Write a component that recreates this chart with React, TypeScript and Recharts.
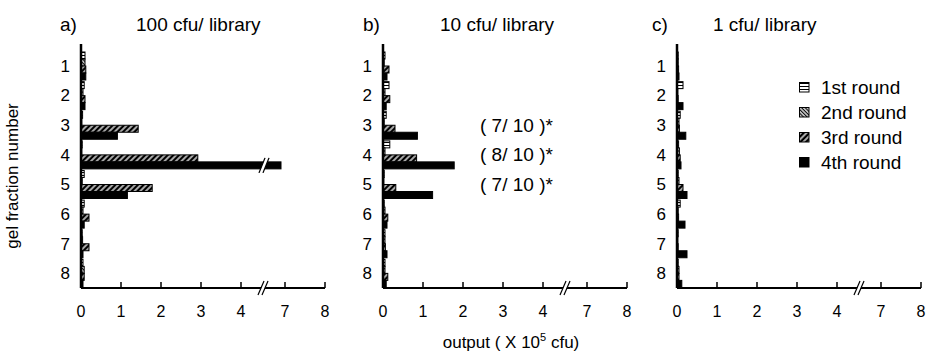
import React from 'react';
import { BarChart, Bar, XAxis, YAxis, ReferenceDot } from 'recharts';

const FONT = '"Liberation Sans", Arial, sans-serif';

// gel fractions (y categories) and selection rounds (series)
const fractions = ['1', '2', '3', '4', '5', '6', '7', '8'];
const rounds = ['1st round', '2nd round', '3rd round', '4th round'];

// a) 100 cfu/ library, output in 10^5 cfu
const a1st = [0.1, 0.08, 0.04, 0.03, 0.08, 0.08, 0.03, 0.05];
const a2nd = [0.1, 0.05, 0.02, 0.02, 0.03, 0.05, 0.04, 0.08];
const a3rd = [0.12, 0.1, 1.43, 2.92, 1.78, 0.2, 0.2, 0.08];
const a4th = [0.12, 0.1, 0.91, 6.9, 1.16, 0.08, 0.05, 0.05];

// b) 10 cfu/ library
const b1st = [0.05, 0.15, 0.08, 0.17, 0.03, 0.03, 0.05, 0.05];
const b2nd = [0.03, 0.05, 0.03, 0.05, 0.02, 0.05, 0.05, 0.05];
const b3rd = [0.15, 0.17, 0.3, 0.84, 0.32, 0.12, 0.06, 0.12];
const b4th = [0.1, 0.08, 0.86, 1.78, 1.24, 0.1, 0.1, 0.08];

// c) 1 cfu/ library
const c1st = [0.03, 0.15, 0.08, 0.04, 0.03, 0.08, 0.03, 0.03];
const c2nd = [0.03, 0.02, 0.05, 0.06, 0.05, 0.03, 0.02, 0.05];
const c3rd = [0.04, 0.03, 0.06, 0.08, 0.15, 0.04, 0.03, 0.05];
const c4th = [0.05, 0.15, 0.22, 0.1, 0.25, 0.2, 0.25, 0.12];

// annotations in panel b
const noteFractions = ['3', '4', '5'];
const noteTexts = ['( 7/ 10 )*', '( 8/ 10 )*', '( 7/ 10 )*'];
const noteX = 2.4;

// x axis with a break between 4 and 7
const tickValues = [0, 1, 2, 3, 4, 7, 8];
const BREAK_LO = 4;
const SHIFT = 1.9;
const BREAK_AT = 4.55;
const show = (v: number) => (v > BREAK_LO ? v - SHIFT : v);
const xTicks = [...tickValues.map(show), BREAK_AT].sort((p, q) => p - q);

const buildRows = (r1: number[], r2: number[], r3: number[], r4: number[]) =>
  fractions.map((f, i) => ({
    fraction: f,
    r1: show(r1[i]), r2: show(r2[i]), r3: show(r3[i]), r4: show(r4[i]),
    r1raw: r1[i], r2raw: r2[i], r3raw: r3[i], r4raw: r4[i],
  }));

const Patterns = ({ id }: { id: string }) => (
  <defs>
    <pattern id={`${id}-p1`} width="3" height="3" patternUnits="userSpaceOnUse">
      <rect width="3" height="3" fill="#fff" />
      <line x1="0" y1="1.5" x2="3" y2="1.5" stroke="#000" strokeWidth="1" />
    </pattern>
    <pattern id={`${id}-p2`} width="2.6" height="2.6" patternUnits="userSpaceOnUse" patternTransform="rotate(-45)">
      <rect width="2.6" height="2.6" fill="#fff" />
      <line x1="1.3" y1="0" x2="1.3" y2="2.6" stroke="#000" strokeWidth="1.3" />
    </pattern>
    <pattern id={`${id}-p3`} width="4" height="4" patternUnits="userSpaceOnUse" patternTransform="rotate(45)">
      <rect width="4" height="4" fill="#000" />
      <line x1="2" y1="0" x2="2" y2="4" stroke="#fff" strokeWidth="1.3" />
    </pattern>
  </defs>
);

const fills = (id: string) => [`url(#${id}-p1)`, `url(#${id}-p2)`, `url(#${id}-p3)`, '#000'];

const makeShape = (rawKey: string) => (props: any) => {
  const { x, y, width, height, fill, payload } = props;
  const w = Math.max(width, 0);
  const rect = <rect x={x} y={y} width={w} height={height} fill={fill} stroke="#000" strokeWidth={1} />;
  const raw = payload[rawKey];
  if (!(raw > BREAK_LO)) return rect;
  const bx = x + (w / show(raw)) * BREAK_AT;
  const top = y - 4;
  const bot = y + height + 4;
  return (
    <g>
      {rect}
      <polygon points={`${bx - 4},${bot} ${bx + 2},${top} ${bx + 6},${top} ${bx},${bot}`} fill="#fff" />
      <line x1={bx - 4} y1={bot} x2={bx + 2} y2={top} stroke="#000" strokeWidth={1.3} />
      <line x1={bx} y1={bot} x2={bx + 6} y2={top} stroke="#000" strokeWidth={1.3} />
    </g>
  );
};

const XTick = (props: any) => {
  const { x, y, payload } = props;
  const v = payload.value;
  if (Math.abs(v - BREAK_AT) < 1e-6) {
    return (
      <g>
        <polygon points={`${x - 5},${y + 7} ${x + 1},${y - 7} ${x + 5},${y - 7} ${x - 1},${y + 7}`} fill="#fff" />
        <line x1={x - 5} y1={y + 7} x2={x + 1} y2={y - 7} stroke="#000" strokeWidth={1.2} />
        <line x1={x - 1} y1={y + 7} x2={x + 5} y2={y - 7} stroke="#000" strokeWidth={1.2} />
      </g>
    );
  }
  const idx = tickValues.findIndex((t) => Math.abs(show(t) - v) < 1e-6);
  return (
    <g>
      <line x1={x} x2={x} y1={y} y2={y - 6} stroke="#000" strokeWidth={1.5} />
      <text x={x} y={y + 29} textAnchor="middle" fill="#000" fontSize={16} fontFamily={FONT}>
        {idx >= 0 ? String(tickValues[idx]) : ''}
      </text>
    </g>
  );
};

const keys = ['r1', 'r2', 'r3', 'r4'];

const Panel = ({ id, rows, left, notes }: { id: string; rows: any[]; left: number; notes?: boolean }) => (
  <div style={{ position: 'absolute', left, top: 0 }}>
    <BarChart
      width={290}
      height={330}
      data={rows}
      layout="vertical"
      margin={{ top: 44, right: 5, bottom: 6, left: 0 }}
      barCategoryGap={1}
      barGap={0}
    >
      <Patterns id={id} />
      <XAxis
        type="number"
        domain={[0, 6.1]}
        ticks={xTicks}
        interval={0}
        tick={<XTick />}
        tickLine={false}
        tickSize={0}
        tickMargin={0}
        height={36}
        axisLine={{ stroke: '#000', strokeWidth: 2 }}
        allowDataOverflow
      />
      <YAxis
        type="category"
        dataKey="fraction"
        width={41}
        interval={0}
        tickLine={false}
        tickSize={0}
        tickMargin={11}
        padding={{ top: 7, bottom: 0 }}
        axisLine={{ stroke: '#000', strokeWidth: 2.5 }}
        tick={{ fill: '#000', fontSize: 17, fontFamily: FONT }}
      />
      {keys.map((k, i) => (
        <Bar
          key={k}
          dataKey={k}
          name={rounds[i]}
          fill={fills(id)[i]}
          shape={makeShape(k + 'raw')}
          isAnimationActive={false}
        />
      ))}
      {notes &&
        noteFractions.map((f, i) => (
          <ReferenceDot
            key={f}
            x={noteX}
            y={f}
            r={1}
            fill="none"
            stroke="none"
            label={{ value: noteTexts[i], position: 'right', offset: 0, fill: '#000', fontSize: 19, fontFamily: FONT }}
          />
        ))}
    </BarChart>
  </div>
);

const LegendBox = () => (
  <div style={{ position: 'absolute', left: 799, top: 75 }}>
    {rounds.map((r, i) => (
      <div key={r} style={{ display: 'flex', alignItems: 'center', height: 25 }}>
        <svg width={11} height={11} style={{ marginRight: 11 }}>
          <Patterns id={`lg${i}`} />
          <rect x={0.5} y={0.5} width={9.5} height={9.5} fill={fills(`lg${i}`)[i]} stroke="#000" strokeWidth={1} />
        </svg>
        <span style={{ fontSize: 19, lineHeight: '19px' }}>{r}</span>
      </div>
    ))}
  </div>
);

const titleStyle: React.CSSProperties = { position: 'absolute', top: 15, fontSize: 19, lineHeight: '20px' };

export default function App() {
  return (
    <div style={{ position: 'absolute', left: 0, top: 0, width: 928, height: 359, background: '#fff', fontFamily: FONT, color: '#000' }}>
      <div style={{ ...titleStyle, left: 60 }}>a)</div>
      <div style={{ ...titleStyle, left: 136 }}>100 cfu/ library</div>
      <div style={{ ...titleStyle, left: 363 }}>b)</div>
      <div style={{ ...titleStyle, left: 440 }}>10 cfu/ library</div>
      <div style={{ ...titleStyle, left: 652 }}>c)</div>
      <div style={{ ...titleStyle, left: 713 }}>1 cfu/ library</div>

      <Panel id="pa" rows={buildRows(a1st, a2nd, a3rd, a4th)} left={40} />
      <Panel id="pb" rows={buildRows(b1st, b2nd, b3rd, b4th)} left={342} notes />
      <Panel id="pc" rows={buildRows(c1st, c2nd, c3rd, c4th)} left={636} />
      <LegendBox />

      <div
        style={{
          position: 'absolute', left: 13, top: 176, fontSize: 17, whiteSpace: 'nowrap',
          transform: 'translate(-50%, -50%) rotate(-90deg)',
        }}
      >
        gel fraction number
      </div>
      <div
        style={{
          position: 'absolute', left: 511, top: 342, fontSize: 17, whiteSpace: 'nowrap',
          transform: 'translate(-50%, -50%)',
        }}
      >
        output ( X 10<sup style={{ fontSize: 11 }}>5</sup> cfu)
      </div>
    </div>
  );
}
